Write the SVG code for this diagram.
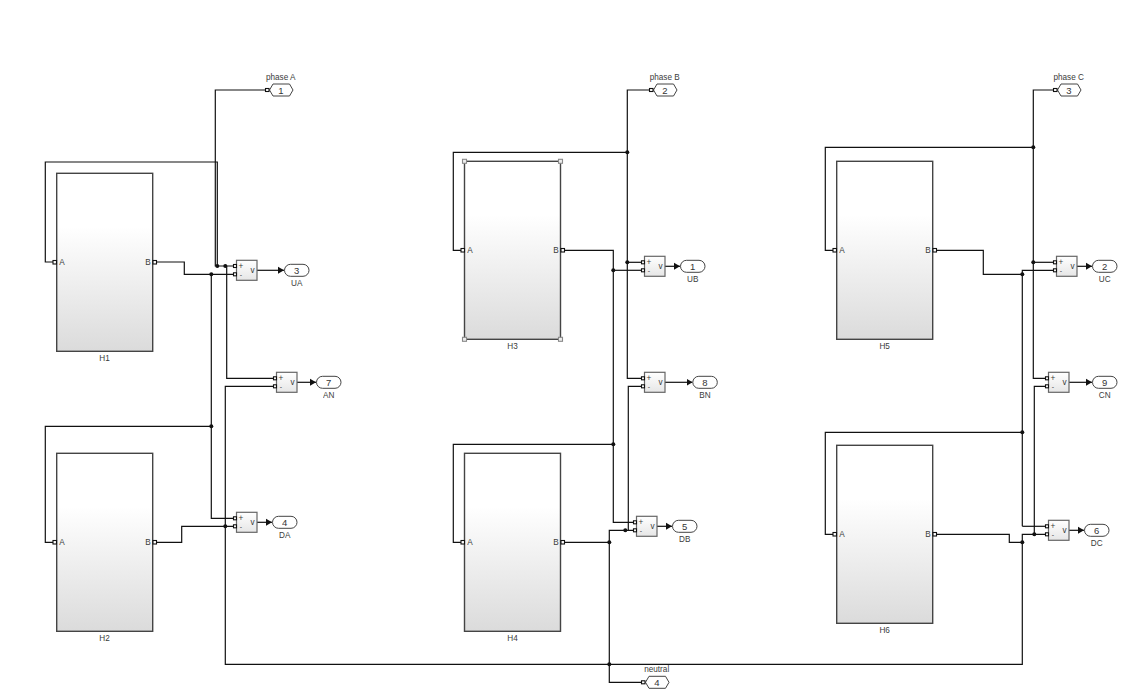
<svg xmlns="http://www.w3.org/2000/svg" width="1141" height="697" viewBox="0 0 1141 697">
<style>
text{font-family:"Liberation Sans",Arial,sans-serif;font-size:8.2px;fill:#3a3a3a;text-anchor:middle;opacity:.99}
.wire{fill:none;stroke:#111;stroke-width:1.2}
.arrow{fill:none;stroke:#111;stroke-width:1.2;marker-end:url(#tip)}
.dot{fill:#111}
.port{fill:#fff;stroke:#111;stroke-width:1.1}
.sub{fill:url(#grad);stroke:#444;stroke-width:1.4}
.sum{fill:url(#sgrad);stroke:#666;stroke-width:1.2}
.io{fill:#fff;stroke:#444;stroke-width:1}
.handle{fill:#eee;stroke:#888;stroke-width:1.1}
.num{font-size:9.5px;fill:#333}
.sm{font-size:7px}
</style>
<defs>
<linearGradient id="grad" x1="0" y1="0" x2="0" y2="1"><stop offset="0" stop-color="#fff"/><stop offset="0.3" stop-color="#fff"/><stop offset="1" stop-color="#dbdbdb"/></linearGradient>
<linearGradient id="sgrad" x1="0" y1="0" x2="0" y2="1"><stop offset="0" stop-color="#fff"/><stop offset="1" stop-color="#e6e6e6"/></linearGradient>
<marker id="tip" markerUnits="userSpaceOnUse" markerWidth="7" markerHeight="8" refX="6" refY="4" orient="auto"><path d="M0 0.5L6 4L0 7.5Z" fill="#111"/></marker>
</defs>
<rect width="1141" height="697" fill="#fff"/>
<g id="connectors">
<path class="wire" d="M265.500 90H215.300V266H236"/>
<path class="wire" d="M54 262H45.300V162H217.300V266"/>
<path class="wire" d="M156 262H184.300V274.300H236"/>
<path class="wire" d="M211.300 274.300V518.300H236"/>
<path class="wire" d="M211.300 426.300H45.300V542.300H54"/>
<path class="wire" d="M226.700 266V378.300H275.500"/>
<path class="wire" d="M275.500 386.300H225.300V664.300H1022.300V534.300H1048"/>
<path class="wire" d="M156 542.300H181.700V526.300H236"/>
<path class="arrow" d="M257 270.300H284"/>
<path class="arrow" d="M297 382.300H316"/>
<path class="arrow" d="M257 522.300H272"/>
<path class="wire" d="M649.500 90H627.300V378.300H644"/>
<path class="wire" d="M627.300 152.300H453.300V250.300H462"/>
<path class="wire" d="M627.300 262.300H644"/>
<path class="wire" d="M564 250.300H613.300V522.300H636"/>
<path class="wire" d="M613.300 270.300H644"/>
<path class="wire" d="M613.300 444.300H453.300V542.300H462"/>
<path class="wire" d="M644 386.300H628.300V530.300"/>
<path class="wire" d="M564 542.300H609.300V682.300H642"/>
<path class="wire" d="M609.300 542.300V530.300H636"/>
<path class="arrow" d="M665 266.300H680"/>
<path class="arrow" d="M665 382.300H692.500"/>
<path class="arrow" d="M657 526.300H672"/>
<path class="wire" d="M1055 90H1033.300V378.300H1048"/>
<path class="wire" d="M1033.300 147.300H825.300V250.300H834"/>
<path class="wire" d="M1033.300 262.300H1056"/>
<path class="wire" d="M936 250.300H983.300V274.300H1022.300"/>
<path class="wire" d="M1022.300 526.300V270.300H1056"/>
<path class="wire" d="M1022.300 526.300H1048"/>
<path class="wire" d="M1022.300 432.300H825.300V534.300H834"/>
<path class="wire" d="M1048 386.300H1034.300V534.300"/>
<path class="wire" d="M936 534.300H1009.300V542.300H1022.300"/>
<path class="arrow" d="M1077 266.300H1092"/>
<path class="arrow" d="M1069 382.300H1092"/>
<path class="arrow" d="M1069 530.300H1084"/>
<circle class="dot" cx="217.300" cy="266" r="2"/><circle class="dot" cx="225.300" cy="266" r="2"/><circle class="dot" cx="211.300" cy="274.300" r="2"/><circle class="dot" cx="211.300" cy="426.300" r="2"/><circle class="dot" cx="225.300" cy="526.300" r="2"/>
<circle class="dot" cx="627.300" cy="152.300" r="2"/><circle class="dot" cx="627.300" cy="262.300" r="2"/><circle class="dot" cx="613.300" cy="270.300" r="2"/><circle class="dot" cx="613.300" cy="444.300" r="2"/><circle class="dot" cx="625.300" cy="530.300" r="2"/><circle class="dot" cx="609.300" cy="542.300" r="2"/><circle class="dot" cx="609.300" cy="664.300" r="2"/>
<circle class="dot" cx="1033.300" cy="147.300" r="2"/><circle class="dot" cx="1033.300" cy="262.300" r="2"/><circle class="dot" cx="1022.300" cy="274.300" r="2"/><circle class="dot" cx="1022.300" cy="432.300" r="2"/><circle class="dot" cx="1034.300" cy="534.300" r="2"/><circle class="dot" cx="1022.300" cy="542.300" r="2"/>
</g>
<g id="H1"><rect class="sub" x="56.700" y="173.300" width="96" height="178"/><rect class="port" x="53" y="260.500" width="3.500" height="3.500"/><rect class="port" x="153" y="260.500" width="3.500" height="3.500"/><text x="62" y="265">A</text><text x="148" y="265">B</text><text x="104.500" y="361">H1</text></g>
<g id="H2"><rect class="sub" x="56.700" y="453.300" width="96" height="178"/><rect class="port" x="53" y="540.500" width="3.500" height="3.500"/><rect class="port" x="153" y="540.500" width="3.500" height="3.500"/><text x="62" y="545">A</text><text x="148" y="545">B</text><text x="104.500" y="641">H2</text></g>
<g id="H3"><rect class="sub" x="464.500" y="161.300" width="96" height="178"/><rect class="handle" x="462.500" y="159.300" width="4" height="4"/><rect class="handle" x="558.500" y="159.300" width="4" height="4"/><rect class="handle" x="462.500" y="337.300" width="4" height="4"/><rect class="handle" x="558.500" y="337.300" width="4" height="4"/><rect class="port" x="461" y="248.500" width="3.500" height="3.500"/><rect class="port" x="561" y="248.500" width="3.500" height="3.500"/><text x="470" y="253">A</text><text x="556" y="253">B</text><text x="512.500" y="349">H3</text></g>
<g id="H4"><rect class="sub" x="464.500" y="453.300" width="96" height="178"/><rect class="port" x="461" y="540.500" width="3.500" height="3.500"/><rect class="port" x="561" y="540.500" width="3.500" height="3.500"/><text x="470" y="545">A</text><text x="556" y="545">B</text><text x="512.500" y="641">H4</text></g>
<g id="H5"><rect class="sub" x="836.700" y="161.300" width="96" height="178"/><rect class="port" x="833" y="248.500" width="3.500" height="3.500"/><rect class="port" x="933" y="248.500" width="3.500" height="3.500"/><text x="842" y="253">A</text><text x="928" y="253">B</text><text x="884.700" y="349">H5</text></g>
<g id="H6"><rect class="sub" x="836.700" y="445.300" width="96" height="178"/><rect class="port" x="833" y="532.500" width="3.500" height="3.500"/><rect class="port" x="933" y="532.500" width="3.500" height="3.500"/><text x="842" y="537">A</text><text x="928" y="537">B</text><text x="884.700" y="633">H6</text></g>
<g id="sumUA"><rect class="sum" x="236.500" y="260.300" width="20.500" height="20"/><rect class="port" x="233.500" y="264.500" width="3" height="3"/><rect class="port" x="233.500" y="272.800" width="3" height="3"/><text x="241" y="269">+</text><text class="sm" x="241" y="277">-</text><text x="252.500" y="273">v</text></g>
<g id="sumAN"><rect class="sum" x="276.500" y="372.300" width="20.500" height="20"/><rect class="port" x="273.500" y="376.800" width="3" height="3"/><rect class="port" x="273.500" y="384.800" width="3" height="3"/><text x="281" y="381">+</text><text class="sm" x="281" y="389">-</text><text x="292.500" y="385">v</text></g>
<g id="sumDA"><rect class="sum" x="236.500" y="512.300" width="20.500" height="20"/><rect class="port" x="233.500" y="516.800" width="3" height="3"/><rect class="port" x="233.500" y="524.800" width="3" height="3"/><text x="241" y="521">+</text><text class="sm" x="241" y="529">-</text><text x="252.500" y="525">v</text></g>
<g id="sumUB"><rect class="sum" x="644.500" y="256.300" width="20.500" height="20"/><rect class="port" x="641.500" y="260.800" width="3" height="3"/><rect class="port" x="641.500" y="268.800" width="3" height="3"/><text x="649" y="265">+</text><text class="sm" x="649" y="273">-</text><text x="660.500" y="269">v</text></g>
<g id="sumBN"><rect class="sum" x="644.500" y="372.300" width="20.500" height="20"/><rect class="port" x="641.500" y="376.800" width="3" height="3"/><rect class="port" x="641.500" y="384.800" width="3" height="3"/><text x="649" y="381">+</text><text class="sm" x="649" y="389">-</text><text x="660.500" y="385">v</text></g>
<g id="sumDB"><rect class="sum" x="636.500" y="516.300" width="20.500" height="20"/><rect class="port" x="633.500" y="520.800" width="3" height="3"/><rect class="port" x="633.500" y="528.800" width="3" height="3"/><text x="641" y="525">+</text><text class="sm" x="641" y="533">-</text><text x="652.500" y="529">v</text></g>
<g id="sumUC"><rect class="sum" x="1056.500" y="256.300" width="20.500" height="20"/><rect class="port" x="1053.500" y="260.800" width="3" height="3"/><rect class="port" x="1053.500" y="268.800" width="3" height="3"/><text x="1061" y="265">+</text><text class="sm" x="1061" y="273">-</text><text x="1072.500" y="269">v</text></g>
<g id="sumCN"><rect class="sum" x="1048.500" y="372.300" width="20.500" height="20"/><rect class="port" x="1045.500" y="376.800" width="3" height="3"/><rect class="port" x="1045.500" y="384.800" width="3" height="3"/><text x="1053" y="381">+</text><text class="sm" x="1053" y="389">-</text><text x="1064.500" y="385">v</text></g>
<g id="sumDC"><rect class="sum" x="1048.500" y="520.300" width="20.500" height="20"/><rect class="port" x="1045.500" y="524.800" width="3" height="3"/><rect class="port" x="1045.500" y="532.800" width="3" height="3"/><text x="1053" y="529">+</text><text class="sm" x="1053" y="537">-</text><text x="1064.500" y="533">v</text></g>
<g id="outUA"><rect class="io" x="284.500" y="264.300" width="24.500" height="12" rx="6"/><text class="num" x="296.700" y="273.500">3</text><text x="296.700" y="286">UA</text></g>
<g id="outAN"><rect class="io" x="316.500" y="376.300" width="24.500" height="12" rx="6"/><text class="num" x="328.700" y="385.500">7</text><text x="328.700" y="398">AN</text></g>
<g id="outDA"><rect class="io" x="272.500" y="516.300" width="24.500" height="12" rx="6"/><text class="num" x="284.700" y="525.500">4</text><text x="284.700" y="538">DA</text></g>
<g id="outUB"><rect class="io" x="680.500" y="260.300" width="24.500" height="12" rx="6"/><text class="num" x="692.700" y="269.500">1</text><text x="692.700" y="282">UB</text></g>
<g id="outBN"><rect class="io" x="692.800" y="376.300" width="24.500" height="12" rx="6"/><text class="num" x="705" y="385.500">8</text><text x="705" y="398">BN</text></g>
<g id="outDB"><rect class="io" x="672.500" y="520.300" width="24.500" height="12" rx="6"/><text class="num" x="684.700" y="529.500">5</text><text x="684.700" y="542">DB</text></g>
<g id="outUC"><rect class="io" x="1092.500" y="260.300" width="24.500" height="12" rx="6"/><text class="num" x="1104.700" y="269.500">2</text><text x="1104.700" y="282">UC</text></g>
<g id="outCN"><rect class="io" x="1092.500" y="376.300" width="24.500" height="12" rx="6"/><text class="num" x="1104.700" y="385.500">9</text><text x="1104.700" y="398">CN</text></g>
<g id="outDC"><rect class="io" x="1084.500" y="524.300" width="24.500" height="12" rx="6"/><text class="num" x="1096.700" y="533.500">6</text><text x="1096.700" y="546">DC</text></g>
<g id="phaseA"><path class="io" d="M269.500 90L273 84H289.500L293 90L289.500 96H273Z"/><rect class="port" x="265.500" y="88.500" width="3.500" height="3"/><text class="num" x="281" y="93.500">1</text><text x="280.700" y="80">phase A</text></g>
<g id="phaseB"><path class="io" d="M653.500 90L657 84H673.500L677 90L673.500 96H657Z"/><rect class="port" x="649.500" y="88.500" width="3.500" height="3"/><text class="num" x="665" y="93.500">2</text><text x="664.700" y="80">phase B</text></g>
<g id="phaseC"><path class="io" d="M1057.500 90L1061 84H1077.500L1081 90L1077.500 96H1061Z"/><rect class="port" x="1053.500" y="88.500" width="3.500" height="3"/><text class="num" x="1069" y="93.500">3</text><text x="1068.700" y="80">phase C</text></g>
<g id="neutral"><path class="io" d="M645.500 682.300L649 676.300H665.500L669 682.300L665.500 688.300H649Z"/><rect class="port" x="641.500" y="680.800" width="3.500" height="3"/><text class="num" x="657" y="685.800">4</text><text x="656.700" y="672">neutral</text></g>
</svg>
